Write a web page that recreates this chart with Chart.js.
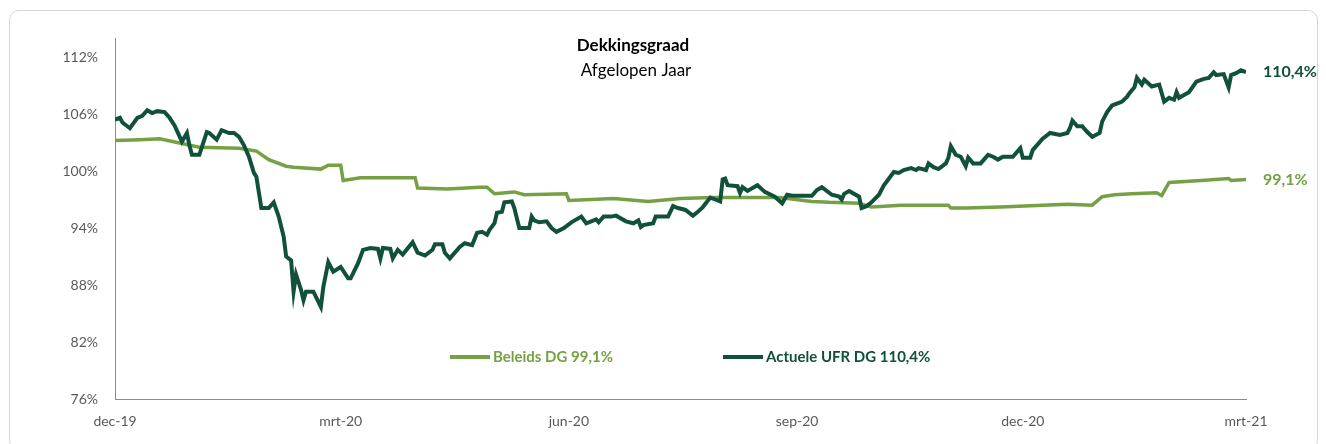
<!DOCTYPE html>
<html lang="nl">
<head>
<meta charset="utf-8">
<title>Dekkingsgraad</title>
<script src="https://cdn.jsdelivr.net/npm/chart.js@4/dist/chart.umd.min.js"></script>
<style>
    html, body { margin: 0; padding: 0; background: #fff; }
    #kader {
        position: absolute; left: 9px; top: 10px; width: 1309px; height: 440px;
        border: 1px solid #d6d6d6; border-radius: 10px; box-sizing: border-box;
    }
    #grafiek { position: absolute; left: 0; top: 0; }
</style>
</head>
<body>
<div id="kader"></div>
<canvas id="grafiek" width="1326" height="444"></canvas>
<script>
// Dekkingsgraad afgelopen jaar, x = dagen sinds 1 dec 2019

const tickDagen = [0, 91, 183, 275, 366, 456];
const tickLabels = ['dec-19', 'mrt-20', 'jun-20', 'sep-20', 'dec-20', 'mrt-21'];
const yTicks = [76, 82, 88, 94, 100, 106, 112];

// Actuele UFR DG
const ufrDagen = [0, 2, 3, 6, 9, 11, 13, 15, 17, 20, 22, 24, 27, 29, 30, 31, 34, 37, 38, 41,
    43, 46, 48, 50, 52, 54, 56, 57, 59, 62, 64, 66, 68, 69, 71, 72, 73, 75, 76, 77,
    80, 83, 84, 86, 88, 91, 94, 95, 98, 100, 103, 106, 107, 108, 111, 112, 114, 116, 120, 122,
    125, 128, 129, 132, 133, 135, 139, 141, 144, 146, 148, 150, 151, 153, 154, 156, 157, 160, 161, 163,
    167, 168, 169, 171, 174, 176, 178, 181, 184, 188, 190, 192, 194, 195, 197, 200, 202, 206, 209, 211,
    212, 213, 217, 218, 223, 225, 227, 230, 233, 235, 237, 240, 242, 244, 245, 246, 247, 251, 252, 253,
    255, 259, 262, 266, 269, 271, 273, 281, 283, 285, 289, 292, 293, 294, 296, 300, 301, 303, 305, 308,
    310, 314, 316, 318, 321, 323, 324, 327, 328, 330, 332, 335, 336, 337, 339, 341, 343, 344, 346, 349,
    352, 354, 356, 358, 362, 365, 366, 369, 370, 374, 377, 381, 384, 385, 386, 388, 390, 392, 394, 397,
    398, 400, 402, 405, 406, 408, 409, 411, 412, 414, 415, 418, 421, 423, 425, 427, 428, 429, 431, 433,
    436, 439, 441, 443, 444, 447, 449, 450, 452, 454, 456];
const ufrWaarden = [105.4, 105.6, 105.1, 104.5, 105.6, 105.8, 106.4, 106.1, 106.3, 106.2, 105.6, 104.8, 103.1, 104.0, 102.7, 101.7, 101.7, 104.1, 104.0, 103.3,
    104.3, 104.0, 104.0, 103.6, 102.7, 101.5, 99.8, 99.4, 96.1, 96.1, 96.7, 95.2, 93.1, 91.0, 90.6, 87.3, 89.1, 87.5, 86.4, 87.3,
    87.3, 85.7, 87.8, 90.4, 89.4, 89.9, 88.7, 88.7, 90.3, 91.7, 91.9, 91.8, 90.8, 91.9, 91.8, 90.8, 91.7, 91.2, 92.5, 91.4,
    91.1, 91.7, 92.3, 92.3, 91.4, 90.8, 92.0, 92.4, 92.2, 93.5, 93.6, 93.3, 93.8, 94.5, 95.6, 95.7, 96.7, 96.8, 96.1, 94.0,
    94.0, 95.2, 94.8, 94.6, 94.7, 94.0, 93.6, 94.0, 94.6, 95.2, 94.5, 94.7, 94.9, 94.6, 95.2, 95.2, 95.3, 94.7, 94.5, 94.8,
    94.1, 94.3, 94.5, 95.2, 95.2, 96.3, 96.1, 95.9, 95.3, 95.7, 96.2, 97.2, 97.0, 96.8, 99.1, 99.2, 98.5, 98.4, 97.7, 98.3,
    97.9, 98.5, 97.8, 97.3, 96.6, 97.5, 97.4, 97.4, 98.0, 98.3, 97.5, 97.3, 97.0, 97.6, 97.9, 97.3, 96.1, 96.3, 96.7, 97.5,
    98.5, 99.9, 99.8, 100.1, 100.3, 100.1, 100.3, 100.1, 100.8, 100.4, 100.2, 100.8, 101.4, 102.6, 101.7, 101.5, 100.5, 101.4, 100.8, 100.8,
    101.7, 101.5, 101.2, 101.5, 101.5, 102.4, 101.4, 101.4, 102.2, 103.4, 104.0, 103.8, 104.0, 104.5, 105.3, 104.7, 104.7, 104.1, 103.6, 104.0,
    105.2, 106.2, 106.9, 107.2, 107.3, 107.8, 108.2, 108.8, 109.8, 109.1, 109.6, 108.9, 109.1, 107.3, 107.7, 107.5, 108.3, 107.7, 108.0, 108.3,
    109.4, 109.7, 109.8, 110.4, 110.1, 110.2, 108.8, 110.1, 110.3, 110.6, 110.4];

// Beleids DG
const beleidsDagen = [0, 10, 18, 27, 34, 50, 57, 62, 69, 72, 83, 86, 91, 92, 99, 121, 122, 134, 147, 150,
    153, 161, 165, 182, 183, 201, 215, 228, 241, 268, 281, 288, 300, 305, 317, 336, 337, 343, 357, 384,
    394, 398, 403, 410, 420, 422, 425, 438, 449, 450, 456];
const beleidsWaarden = [103.2, 103.3, 103.4, 102.9, 102.5, 102.4, 102.1, 101.2, 100.5, 100.4, 100.2, 100.6, 100.6, 99.0, 99.3, 99.3, 98.2, 98.1, 98.3, 98.3,
    97.6, 97.8, 97.5, 97.6, 96.9, 97.1, 96.8, 97.1, 97.2, 97.2, 96.8, 96.7, 96.6, 96.2, 96.4, 96.4, 96.1, 96.1, 96.2, 96.5,
    96.4, 97.3, 97.5, 97.6, 97.7, 97.4, 98.8, 99.0, 99.2, 99.0, 99.1];

const kleurDonker = '#11503a';
const kleurLicht = '#76a044';
const tekstGrijs = '#595959';
const lettertype = 'Lato, "Open Sans", sans-serif';

// Titel, legenda en eindlabels worden zelf getekend
const tekstPlugin = {
    id: 'tekstPlugin',
    afterDraw(chart) {
        const ctx = chart.ctx;
        const area = chart.chartArea;
        ctx.save();

        // Titel
        ctx.textAlign = 'center';
        ctx.textBaseline = 'middle';
        ctx.fillStyle = '#000';
        ctx.font = 'bold 17px ' + lettertype;
        ctx.fillText('Dekkingsgraad', 633, 46);
        ctx.font = '17px ' + lettertype;
        ctx.fillText('Afgelopen Jaar', 636, 71);

        // Legenda
        const legY = area.bottom - 42;
        const items = [
            {x: area.left + 335, kleur: kleurLicht, tekst: 'Beleids DG 99,1%'},
            {x: area.left + 608, kleur: kleurDonker, tekst: 'Actuele UFR DG 110,4%'}
        ];
        ctx.textAlign = 'left';
        ctx.font = 'bold 15px ' + lettertype;
        for (const it of items) {
            ctx.strokeStyle = it.kleur;
            ctx.lineWidth = 4;
            ctx.beginPath();
            ctx.moveTo(it.x, legY);
            ctx.lineTo(it.x + 40, legY);
            ctx.stroke();
            ctx.fillStyle = it.kleur;
            ctx.fillText(it.tekst, it.x + 43, legY);
        }

        // Eindlabels bij het laatste punt
        ctx.font = 'bold 16px ' + lettertype;
        chart.data.datasets.forEach((ds, i) => {
            const meta = chart.getDatasetMeta(i);
            const laatste = meta.data[meta.data.length - 1];
            const waarde = ds.data[ds.data.length - 1].y;
            ctx.fillStyle = ds.borderColor;
            ctx.fillText(waarde.toFixed(1).replace('.', ',') + '%', laatste.x + 17, laatste.y);
        });

        ctx.restore();
    }
};

const ctx = document.getElementById('grafiek');

new Chart(ctx, {
    type: 'line',
    data: {
        datasets: [
            {
                label: 'Actuele UFR DG 110,4%',
                data: ufrDagen.map((d, i) => ({x: d, y: ufrWaarden[i]})),
                borderColor: kleurDonker,
                borderWidth: 4,
                pointRadius: 0,
                tension: 0,
                order: 0
            },
            {
                label: 'Beleids DG 99,1%',
                data: beleidsDagen.map((d, i) => ({x: d, y: beleidsWaarden[i]})),
                borderColor: kleurLicht,
                borderWidth: 3.5,
                pointRadius: 0,
                tension: 0,
                order: 1
            }
        ]
    },
    options: {
        responsive: false,
        animation: false,
        devicePixelRatio: 1,
        layout: {padding: {left: 0, top: 38, right: 80, bottom: 0}},
        plugins: {
            legend: {display: false},
            tooltip: {enabled: false}
        },
        scales: {
            x: {
                type: 'linear',
                min: 0,
                max: 456,
                grid: {display: false, drawTicks: false},
                border: {display: true, color: '#8c8c8c', width: 1},
                afterBuildTicks: scale => {
                    scale.ticks = tickDagen.map(v => ({value: v}));
                },
                afterFit: scale => { scale.height = 45; },
                ticks: {
                    padding: 14,
                    maxRotation: 0,
                    autoSkip: false,
                    color: tekstGrijs,
                    font: {family: lettertype, size: 14},
                    callback: value => tickLabels[tickDagen.indexOf(value)]
                }
            },
            y: {
                min: 76,
                max: 114,
                grid: {display: false, drawTicks: false},
                border: {display: true, color: '#8c8c8c', width: 1},
                afterBuildTicks: scale => {
                    scale.ticks = yTicks.map(v => ({value: v}));
                },
                afterFit: scale => { scale.width = 115; },
                ticks: {
                    padding: 17,
                    autoSkip: false,
                    color: tekstGrijs,
                    font: {family: lettertype, size: 14},
                    callback: value => value + '%'
                }
            }
        }
    },
    plugins: [tekstPlugin]
});
</script>
</body>
</html>
